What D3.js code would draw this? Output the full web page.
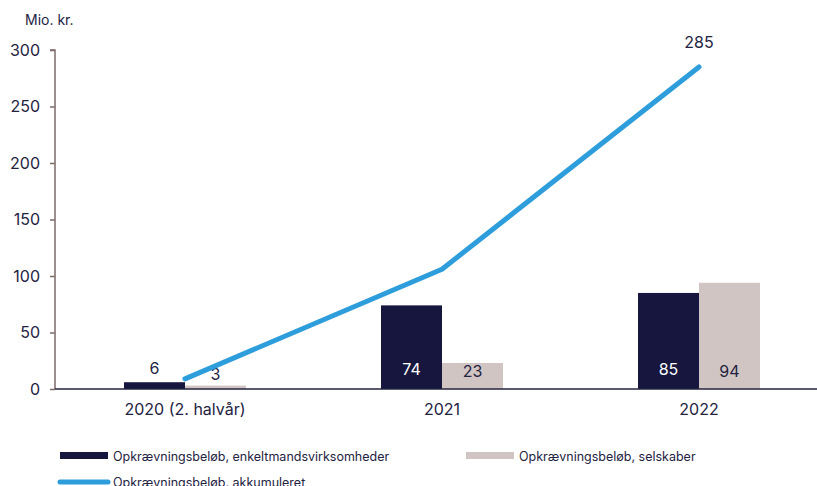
<!DOCTYPE html>
<html><head><meta charset="utf-8">
<script src="https://cdn.jsdelivr.net/npm/d3@7/dist/d3.min.js"></script>
<style>body{margin:0;background:#fff}svg{display:block;font-family:Inter,"Open Sans",sans-serif}</style>
</head><body><svg id="c" width="817" height="486"></svg>
<script>
const categories = ["2020 (2. halvår)", "2021", "2022"];
const enkeltmand = [6, 74, 85];
const selskaber = [3, 23, 94];
const akkumuleret = [9, 106, 285];
const yTicks = [0, 50, 100, 150, 200, 250, 300];
const seriesNames = ["Opkrævningsbeløb, enkeltmandsvirksomheder", "Opkrævningsbeløb, selskaber", "Opkrævningsbeløb, akkumuleret"];

const W = 817, H = 486;
const colDark = "#17163f", colLight = "#d1c5c3", colLine = "#2e9ddb", txt = "#23233f";
const svg = d3.select("#c");
const x = d3.scaleBand().domain(categories).range([56.5, 827.5]);
const y = d3.scaleLinear().domain([0, 300]).range([389, 50]);
const bw = 61;

// y axis
const ya = svg.append("g").attr("transform", "translate(55,0)")
  .call(d3.axisLeft(y).tickValues(yTicks).tickSize(5).tickPadding(10));
ya.select(".domain").attr("stroke", "#7d6b68").attr("stroke-width", 1.5).attr("d", `M-5,${y(300)}H0V${y(0)}`);
ya.selectAll(".tick line").attr("stroke", "#7d6b68").attr("stroke-width", 1.5);
ya.selectAll(".tick text").attr("fill", txt).attr("font-size", 16).attr("font-family", "Inter,sans-serif");

svg.append("text").attr("x", 25).attr("y", 25).attr("fill", txt).attr("font-size", 14).text("Mio. kr.");

// bars
const g = svg.append("g");
categories.forEach((c, i) => {
  const cx = x(c) + x.bandwidth() / 2;
  g.append("rect").attr("x", cx - bw).attr("y", y(enkeltmand[i])).attr("width", bw).attr("height", y(0) - y(enkeltmand[i])).attr("fill", colDark);
  g.append("rect").attr("x", cx).attr("y", y(selskaber[i])).attr("width", bw).attr("height", y(0) - y(selskaber[i])).attr("fill", colLight);
  // labels
  const inside = enkeltmand[i] > 20;
  g.append("text").attr("x", cx - bw / 2).attr("y", inside ? y(0) - 14 : y(enkeltmand[i]) - 8)
    .attr("text-anchor", "middle").attr("font-size", 16).attr("fill", inside ? "#fff" : txt).text(enkeltmand[i]);
  const inside2 = selskaber[i] > 20;
  g.append("text").attr("x", cx + bw / 2).attr("y", inside2 ? y(0) - 12 : y(selskaber[i]) - 6)
    .attr("text-anchor", "middle").attr("font-size", 16).attr("fill", txt).text(selskaber[i]);
});

// x axis
svg.append("line").attr("x1", 55).attr("x2", W).attr("y1", y(0)).attr("y2", y(0)).attr("stroke", "#23233f").attr("stroke-width", 1.5);
categories.forEach(c => {
  svg.append("text").attr("x", x(c) + x.bandwidth() / 2).attr("y", 415).attr("text-anchor", "middle")
    .attr("font-size", 16).attr("fill", txt).text(c);
});

// line
const line = d3.line().x((d, i) => x(categories[i]) + x.bandwidth() / 2).y(d => y(d));
svg.append("path").datum(akkumuleret).attr("d", line).attr("fill", "none").attr("stroke", colLine)
  .attr("stroke-width", 5).attr("stroke-linecap", "round").attr("stroke-linejoin", "round");
svg.append("text").attr("x", x(categories[2]) + x.bandwidth() / 2).attr("y", y(akkumuleret[2]) - 19)
  .attr("text-anchor", "middle").attr("font-size", 16).attr("fill", txt).text(akkumuleret[2]);

// legend
const lg = svg.append("g").attr("font-size", 12.5).attr("fill", txt);
lg.append("rect").attr("x", 60).attr("y", 452).attr("width", 48).attr("height", 7).attr("fill", colDark);
lg.append("text").attr("x", 113).attr("y", 460.5).text(seriesNames[0]);
lg.append("rect").attr("x", 466).attr("y", 452).attr("width", 48).attr("height", 7).attr("fill", colLight);
lg.append("text").attr("x", 519).attr("y", 460.5).text(seriesNames[1]);
lg.append("line").attr("x1", 60).attr("x2", 108).attr("y1", 482).attr("y2", 482).attr("stroke", colLine).attr("stroke-width", 5).attr("stroke-linecap", "round");
lg.append("text").attr("x", 113).attr("y", 486.5).text(seriesNames[2]);
</script></body></html>
